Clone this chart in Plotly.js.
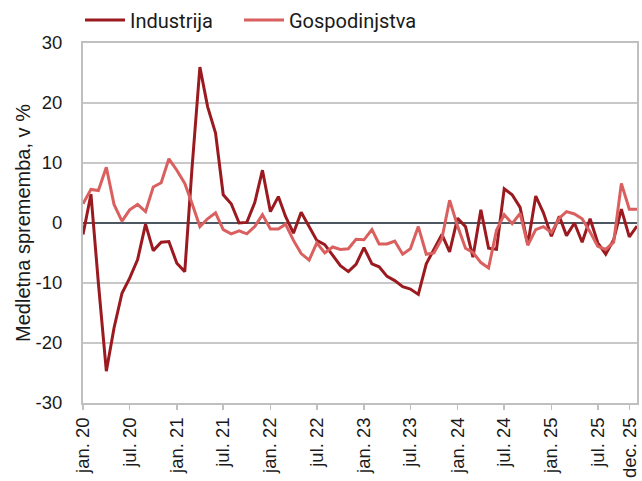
<!DOCTYPE html>
<html>
<head>
<meta charset="utf-8">
<script src="https://cdn.plot.ly/plotly-3.0.1.min.js"></script>
<style>html,body{margin:0;padding:0;background:#fff;}#chart{width:642px;height:481px;}</style>
</head>
<body>
<div id="chart"></div>
<script>
// Months jan. 2020 .. dec. 2025
const months = [];
for (let y = 2020; y <= 2025; y++) {
  for (let m = 1; m <= 12; m++) {
    months.push(y + "-" + String(m).padStart(2, "0") + "-01");
  }
}

const industrija = [
  -1.9, 4.8, -10.0, -24.7, -17.5, -11.7, -9.2, -6.1, -0.2, -4.6, -3.2, -3.1,
  -6.7, -8.1, 9.0, 26.0, 19.4, 15.0, 4.7, 3.2, 0.0, 0.1, 3.4, 8.8,
  1.9, 4.4, 1.1, -1.7, 1.8, -0.6, -2.9, -3.6, -5.4, -7.1, -8.1, -6.9,
  -4.1, -6.8, -7.3, -8.9, -9.6, -10.6, -11.0, -11.9, -6.8, -4.3, -1.9, -4.8,
  0.8, -0.6, -5.7, 2.2, -4.2, -4.4, 5.7, 4.7, 2.6, -3.6, 4.5, 1.7,
  -2.2, 1.1, -2.1, 0.0, -3.2, 0.7, -3.3, -5.2, -2.8, 2.3, -2.3, -0.5
];

const gospodinjstva = [
  3.2, 5.6, 5.4, 9.3, 3.1, 0.3, 2.2, 3.1, 1.9, 6.0, 6.7, 10.7,
  8.8, 6.6, 3.3, -0.6, 0.7, 1.7, -1.1, -1.8, -1.3, -1.8, -0.6, 1.4,
  -1.0, -1.0, -0.2, -2.9, -5.1, -6.2, -3.3, -5.0, -4.0, -4.4, -4.3, -2.7,
  -2.8, -1.1, -3.5, -3.5, -3.0, -5.2, -4.3, -0.6, -5.2, -5.0, -2.6, 3.8,
  -0.5, -4.2, -4.9, -6.6, -7.5, -1.2, 1.4, -0.1, 1.6, -3.7, -1.1, -0.6,
  -1.6, 0.8, 1.9, 1.5, 0.7, -1.5, -3.9, -4.4, -3.2, 6.6, 2.3, 2.3
];

const xTickVals = ["2020-01-01","2020-07-01","2021-01-01","2021-07-01","2022-01-01","2022-07-01",
  "2023-01-01","2023-07-01","2024-01-01","2024-07-01","2025-01-01","2025-07-01","2025-11-02"];
const xTickText = ["jan. 20","jul. 20","jan. 21","jul. 21","jan. 22","jul. 22",
  "jan. 23","jul. 23","jan. 24","jul. 24","jan. 25","jul. 25","dec. 25"];
const yTickVals = [-30, -20, -10, 0, 10, 20, 30];
const yTickText = ["-30", "-20", "-10", "0", "10", "20", "30"];

const seriesNames = ["Industrija", "Gospodinjstva"];

const traces = [
  {x: months, y: industrija, name: seriesNames[0], type: "scatter", mode: "lines",
   line: {color: "#9B1A20", width: 3}, legend: "legend"},
  {x: months, y: gospodinjstva, name: seriesNames[1], type: "scatter", mode: "lines",
   line: {color: "#DA605F", width: 3}, legend: "legend2"}
];

const fontFam = "'Liberation Sans', Arial, sans-serif";
const fs = 18.5;
const legendFont = {family: "Roboto, sans-serif", size: 20, color: "#1a1a1a"};
const layout = {
  width: 642, height: 481,
  margin: {l: 83, r: 5, t: 43, b: 78},
  paper_bgcolor: "#fff", plot_bgcolor: "#fff",
  font: {family: fontFam, size: fs, color: "#1a1a1a"},
  showlegend: true,
  legend: {orientation: "h", xref: "container", yref: "container",
           x: 80 / 642, xanchor: "left", y: 1 - 20 / 481, yanchor: "middle",
           font: legendFont, bgcolor: "rgba(0,0,0,0)", itemwidth: 40},
  legend2: {orientation: "h", xref: "container", yref: "container",
           x: 239 / 642, xanchor: "left", y: 1 - 20 / 481, yanchor: "middle",
           font: legendFont, bgcolor: "rgba(0,0,0,0)", itemwidth: 40},
  xaxis: {
    type: "date", range: ["2020-01-01", "2025-12-01"],
    tickmode: "array", tickvals: xTickVals, ticktext: xTickText, tickangle: -90,
    ticks: "outside", ticklen: 5, tickwidth: 1.5, tickcolor: "#BFBFBF",
    showgrid: false, zeroline: false,
    showline: true, linecolor: "#BFBFBF", linewidth: 2, mirror: true,
    tickfont: {family: fontFam, size: fs, color: "#1a1a1a"}
  },
  yaxis: {
    range: [-30, 30], tickmode: "array", tickvals: yTickVals, ticktext: yTickText,
    showgrid: true, gridcolor: "#C8C8C8", gridwidth: 2,
    zeroline: true, zerolinecolor: "#4D5762", zerolinewidth: 2,
    showline: true, linecolor: "#BFBFBF", linewidth: 2, mirror: true,
    ticks: "", ticklabelstandoff: 15,
    tickfont: {family: fontFam, size: fs, color: "#1a1a1a"},
    title: {text: "Medletna sprememba, v %", standoff: 0,
            font: {family: fontFam, size: 20, color: "#1a1a1a"}}
  }
};

Plotly.newPlot("chart", traces, layout, {staticPlot: true, displayModeBar: false});
</script>
</body>
</html>
